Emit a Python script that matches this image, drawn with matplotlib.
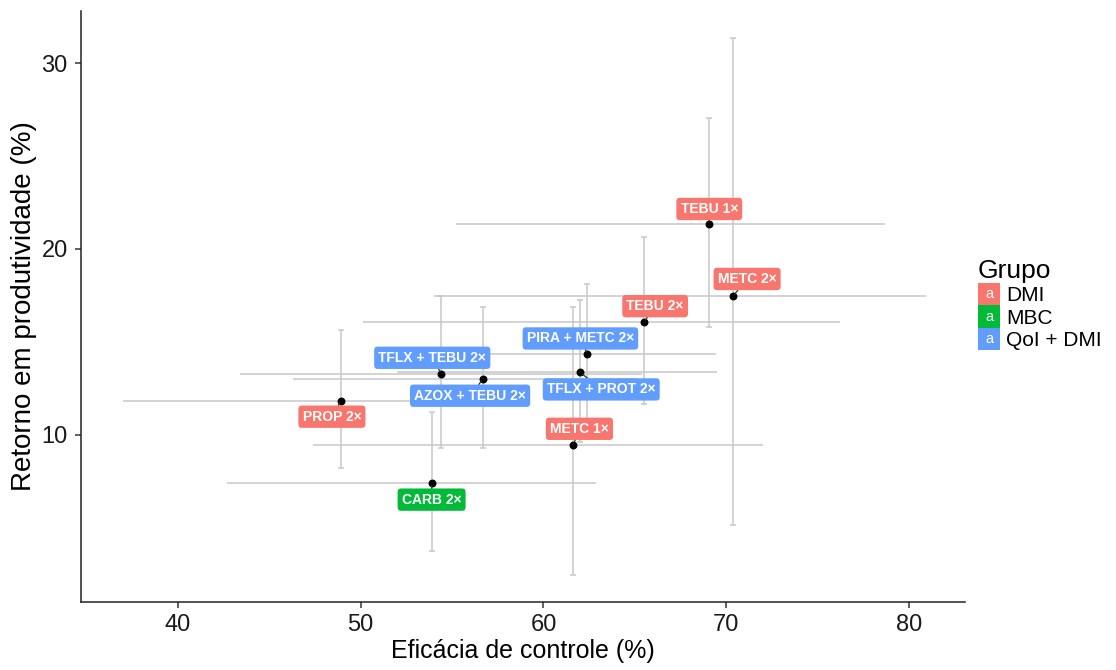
import matplotlib
matplotlib.use("Agg")
import matplotlib.pyplot as plt
from matplotlib.legend_handler import HandlerBase
from matplotlib.patches import Rectangle, Patch
from matplotlib.text import Text

plt.rcParams["font.family"] = ["Liberation Sans", "DejaVu Sans"]

# dados
tratamentos = ["TEBU 1×", "METC 2×", "TEBU 2×", "PIRA + METC 2×", "TFLX + PROT 2×",
               "METC 1×", "CARB 2×", "PROP 2×", "TFLX + TEBU 2×", "AZOX + TEBU 2×"]
grupo = ["DMI", "DMI", "DMI", "QoI + DMI", "QoI + DMI",
         "DMI", "MBC", "DMI", "QoI + DMI", "QoI + DMI"]
eficacia = [69.07, 70.38, 65.50, 62.40, 62.02, 61.64, 53.88, 48.92, 54.41, 56.70]
efic_inf = [55.2, 54.0, 50.1, 54.0, 52.0, 47.4, 42.7, 37.0, 43.4, 46.3]
efic_sup = [78.7, 80.9, 76.2, 69.45, 69.5, 72.0, 62.9, 57.5, 65.4, 65.1]
retorno = [21.34, 17.47, 16.06, 14.32, 13.35, 9.46, 7.42, 11.83, 13.28, 13.01]
ret_inf = [15.82, 5.16, 11.65, 10.5, 9.6, 2.44, 3.76, 8.19, 9.28, 9.28]
ret_sup = [27.04, 31.36, 20.63, 18.1, 17.27, 16.9, 11.22, 15.61, 17.47, 16.9]

grupos = ["DMI", "MBC", "QoI + DMI"]
cores = {"DMI": "#F8766D", "MBC": "#00BA38", "QoI + DMI": "#619CFF"}

# deslocamento dos rótulos (pontos), estilo ggrepel
desloc = [(0, 10.8), (10, 12.2), (8, 11.5), (-5, 11.5), (15, -12.2),
          (4.3, 11.5), (0, -12.2), (-6.5, -11.5), (-6.5, 11.5), (-9.4, -12.2)]


class HandlerRotulo(HandlerBase):
    def create_artists(self, legend, orig_handle, xdescent, ydescent,
                       width, height, fontsize, trans):
        r = Rectangle((-xdescent, -ydescent), width, height,
                      facecolor=orig_handle.get_facecolor(), edgecolor="none",
                      transform=trans)
        t = Text(-xdescent + width / 2, -ydescent + height / 2, "a", color="white",
                 ha="center", va="center", fontsize=fontsize * 0.7,
                 transform=trans)
        return [r, t]


fig = plt.figure(figsize=(11.16, 6.70), dpi=100)
ax = fig.add_axes([81 / 1116, 1 - 602 / 670, (965 - 81) / 1116, (602 - 11) / 670])

cinza = "#C8C8C8"
for i in range(len(tratamentos)):
    ax.errorbar(eficacia[i], retorno[i],
                yerr=[[retorno[i] - ret_inf[i]], [ret_sup[i] - retorno[i]]],
                fmt="none", ecolor=cinza, elinewidth=1.1, capsize=2, capthick=1.1, zorder=1)
    ax.errorbar(eficacia[i], retorno[i],
                xerr=[[eficacia[i] - efic_inf[i]], [efic_sup[i] - eficacia[i]]],
                fmt="none", ecolor=cinza, elinewidth=1.1, capsize=0, zorder=1)

ax.scatter(eficacia, retorno, s=22, color="black", zorder=3)

for i, nome in enumerate(tratamentos):
    ax.annotate(nome, (eficacia[i], retorno[i]), xytext=desloc[i],
                textcoords="offset points", ha="center", va="center",
                fontsize=10, fontweight="bold", color="white", zorder=4,
                bbox=dict(boxstyle="round,pad=0.3,rounding_size=0.25",
                          facecolor=cores[grupo[i]], edgecolor="none"),
                arrowprops=dict(arrowstyle="-", color="#333333", lw=0.9,
                                shrinkA=0, shrinkB=2))

ax.set_xlim(34.7, 83.06)
ax.set_ylim(1.0, 32.8)
ax.set_xticks([40, 50, 60, 70, 80])
ax.set_yticks([10, 20, 30])
ax.spines["top"].set_visible(False)
ax.spines["right"].set_visible(False)
for s in ["left", "bottom"]:
    ax.spines[s].set_linewidth(1.1)
    ax.spines[s].set_color("#222222")
ax.tick_params(length=4.5, width=1.1, color="#333333", labelsize=17,
               labelcolor="#1a1a1a")
ax.tick_params(axis="y", pad=5)
ax.tick_params(axis="x", pad=4)
ax.set_xlabel("Eficácia de controle (%)", fontsize=18, labelpad=2)
ax.set_ylabel("Retorno em produtividade (%)", fontsize=20, labelpad=3)

alcas = [Patch(facecolor=cores[g]) for g in grupos]
leg = ax.legend(alcas, grupos, title="Grupo", loc="upper left",
                bbox_to_anchor=(978 / 1116, 1 - 259 / 670),
                bbox_transform=fig.transFigure, frameon=False,
                fontsize=15, title_fontsize=19, handler_map={Patch: HandlerRotulo()},
                handlelength=1.06, handleheight=1.28, labelspacing=0.0,
                handletextpad=0.3, borderpad=0.0, borderaxespad=0.0)
leg._legend_box.align = "left"

fig.savefig("out.png", dpi=100)
